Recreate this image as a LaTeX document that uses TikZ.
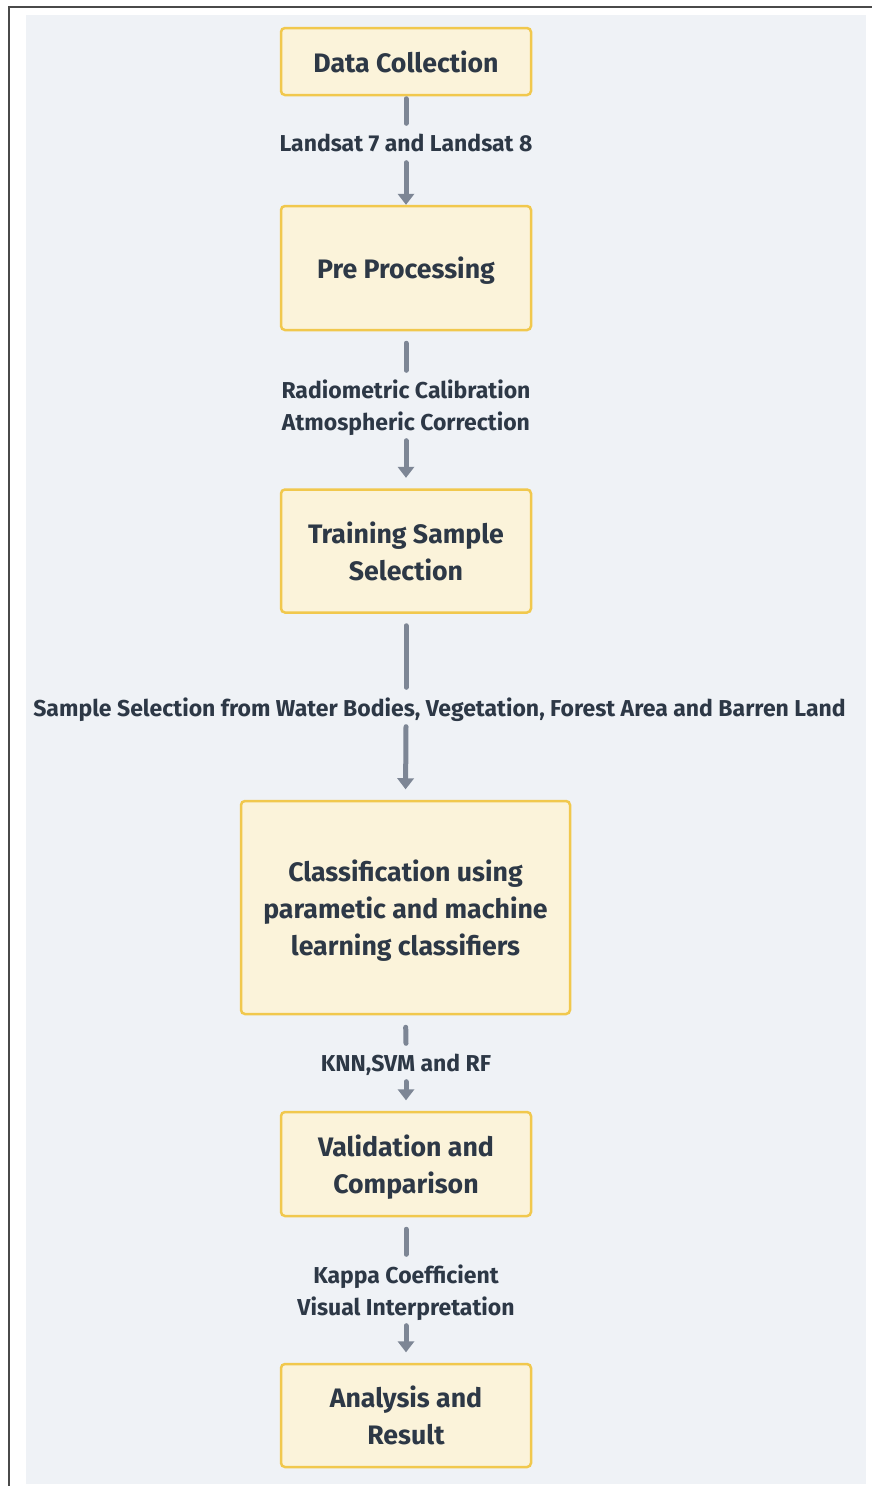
\documentclass[tikz,border=0pt]{standalone}
\usepackage{fontspec}
\setmainfont{Fira Sans}
\usetikzlibrary{arrows.meta}
\definecolor{bg}{HTML}{EFF2F6}
\definecolor{boxfill}{HTML}{FBF3DA}
\definecolor{boxline}{HTML}{F1C84D}
\definecolor{txt}{HTML}{2D3846}
\definecolor{arr}{HTML}{7D8695}
\definecolor{frame}{HTML}{4A4A4A}
\newcommand{\boxfont}{\fontsize{26.7}{37}\selectfont\bfseries}
\newcommand{\labfont}{\fontsize{23}{32}\selectfont\bfseries}
\begin{document}
\begin{tikzpicture}[x=1pt,y=-1pt,
  box/.style={draw=boxline, fill=boxfill, line width=2.5pt, rounded corners=4pt,
    minimum width=250pt, inner sep=0pt, align=center, text=txt, font=\boxfont, text depth=0pt},
  elab/.style={inner sep=0pt, align=center, text=txt, font=\labfont, text depth=0pt},
  conn/.style={draw=arr, line width=5pt, line cap=round},
  tip/.style={-{Triangle[width=17pt,length=11pt,line width=0pt]}}]
\useasboundingbox (0,0) rectangle (872,1486);
\fill[white] (0,0) rectangle (872,1486);
\fill[bg] (26,15) rectangle (866,1484);
\draw[frame, line width=2pt] (8.5,1486) -- (8.5,7) -- (872,7);

\node[box, minimum height=67pt] (dc) at (406,61.5) {Data Collection};
\node[box, minimum height=124pt] (pp) at (406,268) {Pre Processing};
\node[box, minimum height=123pt] (ts) at (406,551) {Training Sample\\Selection};
\node[box, minimum width=329pt, minimum height=213pt] (cl) at (405.5,907.5) {Classification using\\parametic and machine\\learning classifiers};
\node[box, minimum height=104pt] (va) at (406,1164) {Validation and\\Comparison};
\node[box, minimum height=103pt] (an) at (406,1415.5) {Analysis and\\Result};

\node[elab, minimum height=39pt] (l1) at (406,143) {Landsat 7 and Landsat 8};
\node[elab, minimum height=70pt] (l2) at (406,405.5) {Radiometric Calibration\\Atmospheric Correction};
\node[elab, minimum height=39pt] (l3) at (439.5,707) {Sample Selection from Water Bodies, Vegetation, Forest Area and Barren Land};
\node[elab, minimum height=38pt] (l4) at (406,1062.5) {KNN,SVM and RF};
\node[elab, minimum height=71pt] (l5) at (406,1290) {Kappa Coefficient\\Visual Interpretation};

\draw[conn, shorten <=2.5pt] (dc.south) -- (l1.north);
\draw[conn, tip] (l1.south) -- (pp.north);
\draw[conn, shorten <=12pt] (pp.south) -- (l2.north);
\draw[conn, tip, shorten >=10.5pt] (l2.south) -- (ts.north);
\draw[conn, shorten <=12pt] (ts.south) -- (ts.south |- l3.north);
\draw[conn, tip, shorten >=10.5pt] (ts.south |- l3.south) -- (cl.north);
\draw[conn, shorten <=12pt] (cl.south) -- (l4.north);
\draw[conn, tip, shorten >=10.5pt] (l4.south) -- (va.north);
\draw[conn, shorten <=12pt] (va.south) -- (l5.north);
\draw[conn, tip, shorten >=10.5pt] (l5.south) -- (an.north);
\end{tikzpicture}
\end{document}
